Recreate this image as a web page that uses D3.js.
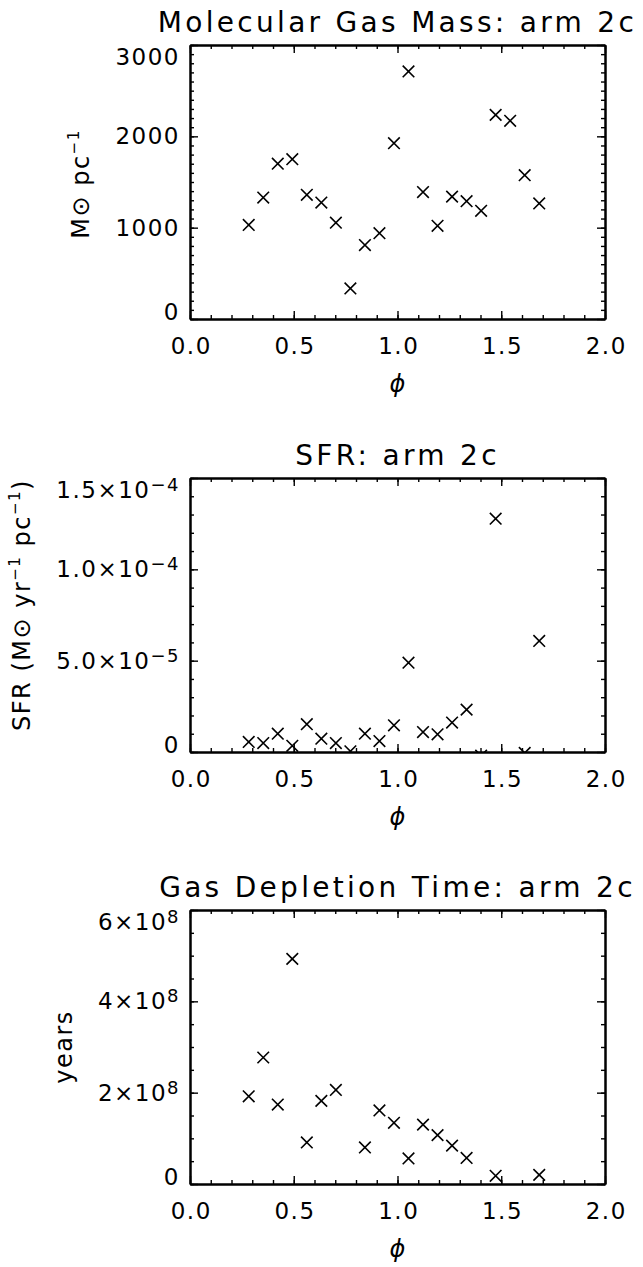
<!DOCTYPE html>
<html>
<head>
<meta charset="utf-8">
<script src="https://cdn.jsdelivr.net/npm/d3@7"></script>
<style>
  body { margin: 0; background: #fff; }
  svg { display: block; font-family: "DejaVu Sans", sans-serif; }
</style>
</head>
<body>
<div id="chart"></div>
<script>
// phase along the arm
const phi = [0.283, 0.353, 0.423, 0.493, 0.563, 0.633, 0.703, 0.773, 0.843, 0.913, 0.983,
             1.053, 1.123, 1.193, 1.263, 1.333, 1.403, 1.473, 1.543, 1.613, 1.683];

// molecular gas mass (Msun / pc)
const gasMass = [1030, 1330, 1700, 1750, 1360, 1275, 1055, 335, 810, 940, 1925,
                 2710, 1390, 1020, 1340, 1290, 1185, 2235, 2170, 1575, 1265];

// SFR (Msun / yr / pc); null = off the plot
const sfr = [5.5e-6, 4.9e-6, 1.0e-5, 3.4e-6, 1.52e-5, 7.3e-6, 4.9e-6, 4e-7, 1.0e-5, 6.0e-6, 1.46e-5,
             4.89e-5, 1.09e-5, 9.7e-6, 1.61e-5, 2.32e-5, -2.0e-6, 1.277e-4, null, -5e-7, 6.08e-5];

// gas depletion time (years); null = off the plot
const depletion = [1.92e8, 2.77e8, 1.74e8, 4.93e8, 0.91e8, 1.82e8, 2.06e8, null, 0.80e8, 1.61e8, 1.34e8,
                   0.56e8, 1.30e8, 1.07e8, 0.84e8, 0.57e8, null, 0.18e8, null, null, 0.20e8];

const xTicks = [0, 0.5, 1, 1.5, 2];
const xTickLabels = ["0.0", "0.5", "1.0", "1.5", "2.0"];

const massTicks = [0, 1000, 2000, 3000];
const massLabels = [["0", ""], ["1000", ""], ["2000", ""], ["3000", ""]];

const sfrTicks = [0, 5e-5, 1e-4, 1.5e-4];
const sfrLabels = [["0", ""], ["5.0×10", "−5"], ["1.0×10", "−4"], ["1.5×10", "−4"]];

const depTicks = [0, 2e8, 4e8, 6e8];
const depLabels = [["0", ""], ["2×10", "8"], ["4×10", "8"], ["6×10", "8"]];

const W = 643, H = 1267;
const ph = 274;           // frame height
const x = d3.scaleLinear().domain([0, 2]).range([190, 605]);

const panels = [
    { top: 45, title: "Molecular Gas Mass: arm 2c", values: gasMass, domain: [0, 3000],
      ticks: massTicks, labels: massLabels, minor: 100, yShift: 2,
      ytitle: [["M⊙ pc", 0], ["−1", 1]] },
    { top: 478, title: "SFR: arm 2c", values: sfr, domain: [0, 1.5e-4],
      ticks: sfrTicks, labels: sfrLabels, minor: 1e-5, yShift: -10,
      ytitle: [["SFR (M⊙ yr", 0], ["−1", 1], [" pc", 0], ["−1", 1], [")", 0]] },
    { top: 910, title: "Gas Depletion Time: arm 2c", values: depletion, domain: [0, 6e8],
      ticks: depTicks, labels: depLabels, minor: 5e7, yShift: 0,
      ytitle: [["years", 0]] }
];

const svg = d3.select("#chart")
    .append("svg")
    .attr("width", W)
    .attr("height", H);

const cross = "M-5.8,-5.8L5.8,5.8M-5.8,5.8L5.8,-5.8";
const fs = 23, ls = 1.5;

function styleAxis(sel) {
    sel.attr("font-family", null).attr("font-size", null);
    sel.select(".domain").attr("stroke", "#000").attr("stroke-width", 2);
    sel.selectAll(".tick line").attr("stroke", "#000").attr("stroke-width", 1.4);
    sel.selectAll(".tick text").attr("fill", "#000")
        .style("font-size", fs + "px").style("letter-spacing", ls + "px");
}

panels.forEach((p, i) => {
    const y = d3.scaleLinear().domain(p.domain).range([p.top + ph, p.top]);
    const bottom = p.top + ph;
    const g = svg.append("g");

    svg.append("clipPath").attr("id", "clip" + i)
        .append("rect")
        .attr("x", x(0)).attr("y", p.top)
        .attr("width", x(2) - x(0)).attr("height", ph);

    const xMinor = d3.range(0, 2.0001, 0.1);
    const yMinor = d3.range(0, p.domain[1] * 1.0001, p.minor);

    // minor ticks on all four sides
    g.append("g").attr("transform", `translate(0,${bottom})`)
        .call(d3.axisBottom(x).tickValues(xMinor).tickSize(-4).tickSizeOuter(0).tickFormat(""))
        .call(styleAxis);
    g.append("g").attr("transform", `translate(0,${p.top})`)
        .call(d3.axisTop(x).tickValues(xMinor).tickSize(-4).tickSizeOuter(0).tickFormat(""))
        .call(styleAxis);
    g.append("g").attr("transform", `translate(${x(0)},0)`)
        .call(d3.axisLeft(y).tickValues(yMinor).tickSize(-4).tickSizeOuter(0).tickFormat(""))
        .call(styleAxis);
    g.append("g").attr("transform", `translate(${x(2)},0)`)
        .call(d3.axisRight(y).tickValues(yMinor).tickSize(-4).tickSizeOuter(0).tickFormat(""))
        .call(styleAxis);

    // major ticks
    g.append("g").attr("transform", `translate(0,${bottom})`)
        .call(d3.axisBottom(x).tickValues(xTicks).tickSize(-8).tickSizeOuter(0)
            .tickPadding(19).tickFormat((d, j) => xTickLabels[j]))
        .call(styleAxis)
        .selectAll(".tick text").attr("dx", ls / 2);
    g.append("g").attr("transform", `translate(0,${p.top})`)
        .call(d3.axisTop(x).tickValues(xTicks).tickSize(-8).tickSizeOuter(0).tickFormat(""))
        .call(styleAxis);
    g.append("g").attr("transform", `translate(${x(2)},0)`)
        .call(d3.axisRight(y).tickValues(p.ticks).tickSize(-8).tickSizeOuter(0).tickFormat(""))
        .call(styleAxis);

    const left = g.append("g").attr("transform", `translate(${x(0)},0)`)
        .call(d3.axisLeft(y).tickValues(p.ticks).tickSize(-8).tickSizeOuter(0).tickPadding(10))
        .call(styleAxis);

    left.selectAll(".tick text").each(function(d, j) {
        const t = d3.select(this).text(null);
        const [m, e] = p.labels[j];
        t.append("tspan").text(m);
        if (e) t.append("tspan").attr("dy", -7).style("font-size", "18px").text(e);
        // keep the end labels inside the frame height
        if (d === p.domain[1]) t.attr("y", 12);
        if (d === p.domain[0]) t.attr("y", -7);
    });

    let minX = Infinity;
    left.selectAll(".tick text").each(function() {
        minX = Math.min(minX, x(0) + this.getBBox().x);
    });

    // markers
    const pts = phi.map((f, k) => ({ f: f, v: p.values[k] })).filter(d => d.v != null);
    g.append("g").attr("clip-path", `url(#clip${i})`)
        .selectAll("path")
        .data(pts)
        .enter()
        .append("path")
        .attr("transform", d => `translate(${x(d.f)},${y(d.v)})`)
        .attr("d", cross)
        .attr("fill", "none")
        .attr("stroke", "#000")
        .attr("stroke-width", 1.6);

    // title
    svg.append("text")
        .attr("x", (x(0) + x(2)) / 2)
        .attr("y", p.top - 13)
        .attr("text-anchor", "middle")
        .style("font-size", "28px")
        .style("letter-spacing", "3.3px")
        .text(p.title);

    // x title
    svg.append("text")
        .attr("x", (x(0) + x(2)) / 2)
        .attr("y", bottom + 73)
        .attr("text-anchor", "middle")
        .style("font-size", "24px")
        .style("font-style", "italic")
        .text("ϕ");

    // y title
    const yt = svg.append("text")
        .attr("transform", `translate(${minX - 26},${p.top + ph / 2 + p.yShift}) rotate(-90)`)
        .attr("text-anchor", "middle")
        .style("font-size", "24px")
        .style("letter-spacing", ls + "px");
    let prevSup = false;
    p.ytitle.forEach(([s, sup]) => {
        const ts = yt.append("tspan").text(s);
        if (sup) ts.attr("dy", -10).style("font-size", "15px");
        else if (prevSup) ts.attr("dy", 10);
        prevSup = !!sup;
    });
});
</script>
</body>
</html>
